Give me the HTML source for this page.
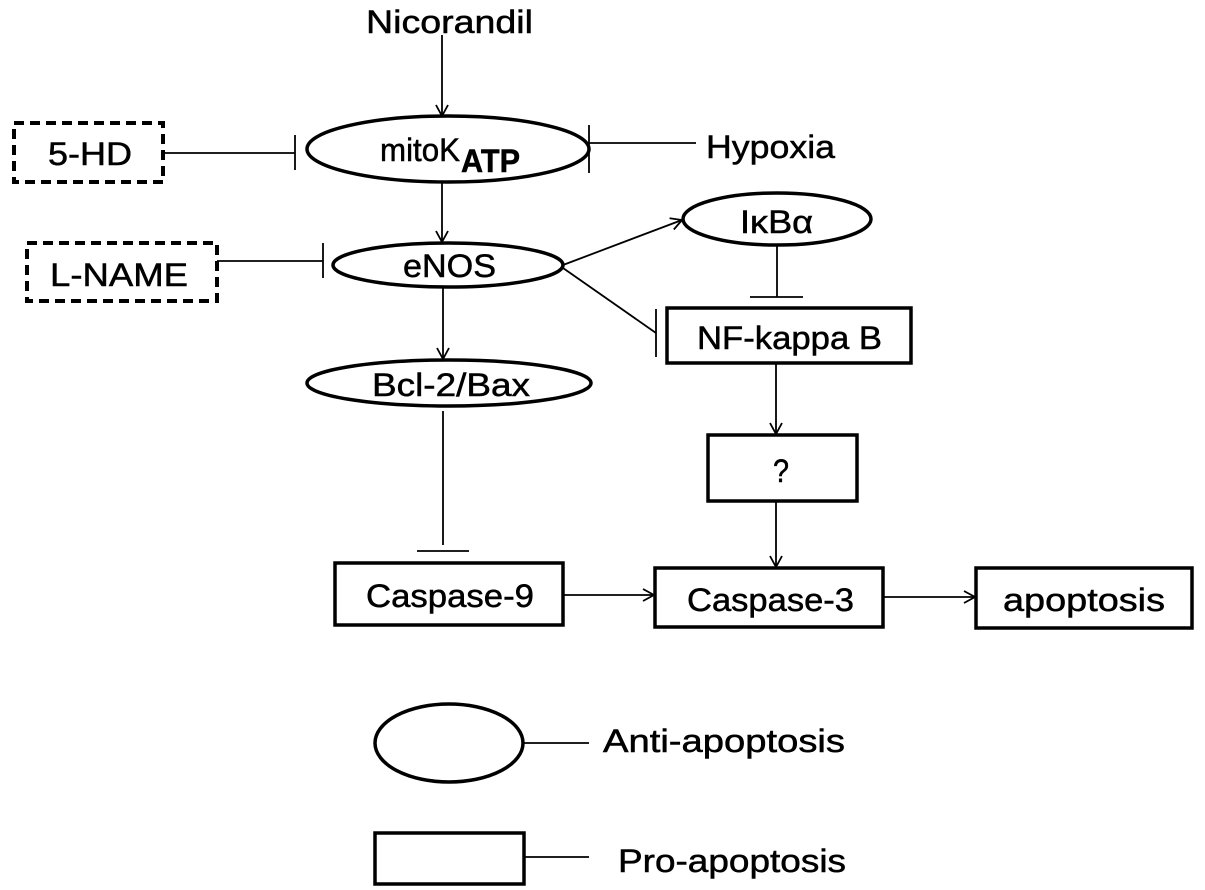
<!DOCTYPE html>
<html><head><meta charset="utf-8"><style>
html,body{margin:0;padding:0;background:#fff;}
svg{display:block;}
text{font-family:"Liberation Sans","DejaVu Sans",sans-serif;font-size:32px;fill:#000;stroke:#000;stroke-width:0.5;}
</style></head><body>
<svg width="1205" height="890" viewBox="0 0 1205 890" xmlns="http://www.w3.org/2000/svg">
<defs>
<marker id="a" markerWidth="14" markerHeight="14" refX="12" refY="7" orient="auto" markerUnits="userSpaceOnUse">
<path d="M1,1 L12,7 L1,13" fill="none" stroke="#000" stroke-width="1.8"/>
</marker>
</defs>
<g stroke="#000" fill="none">
<ellipse cx="448" cy="149" rx="141" ry="33" stroke-width="3.5"/>
<ellipse cx="448" cy="265" rx="115" ry="22" stroke-width="3.5"/>
<ellipse cx="777" cy="219" rx="94" ry="26" stroke-width="3.5"/>
<ellipse cx="449" cy="383" rx="142" ry="23" stroke-width="3.5"/>
<rect x="14" y="123" width="149" height="59" stroke-width="4" stroke-dasharray="10,6"/>
<rect x="27" y="243" width="190" height="58" stroke-width="4" stroke-dasharray="10,6"/>
<rect x="667" y="308" width="244" height="55" stroke-width="3.5"/>
<rect x="708" y="435" width="149" height="66" stroke-width="3.5"/>
<rect x="335" y="563" width="228" height="62" stroke-width="3.5"/>
<rect x="655" y="568" width="228" height="59" stroke-width="3.5"/>
<rect x="976" y="568" width="216" height="60" stroke-width="3.5"/>
<ellipse cx="449" cy="743" rx="74" ry="39" stroke-width="3.5"/>
<rect x="375" y="833" width="149" height="51" stroke-width="3.5"/>
<g stroke-width="1.8">
<line x1="442" y1="35" x2="442" y2="116" marker-end="url(#a)"/>
<line x1="163" y1="153" x2="295" y2="153"/><line x1="295" y1="135" x2="295" y2="170"/>
<line x1="589" y1="143" x2="696" y2="143"/><line x1="589" y1="125" x2="589" y2="173"/>
<line x1="442" y1="182" x2="442" y2="242" marker-end="url(#a)"/>
<line x1="217" y1="261" x2="323" y2="261"/><line x1="323" y1="243" x2="323" y2="278"/>
<line x1="563" y1="265" x2="682" y2="220" marker-end="url(#a)"/>
<line x1="563" y1="268" x2="656" y2="333"/><line x1="656" y1="309" x2="656" y2="357"/>
<line x1="777" y1="245" x2="777" y2="297"/><line x1="750" y1="297" x2="803" y2="297"/>
<line x1="443" y1="287" x2="443" y2="359" marker-end="url(#a)"/>
<line x1="776" y1="363" x2="776" y2="434" marker-end="url(#a)"/>
<line x1="776" y1="501" x2="776" y2="567" marker-end="url(#a)"/>
<line x1="443" y1="411" x2="443" y2="545"/><line x1="417" y1="551" x2="469" y2="551"/>
<line x1="563" y1="595" x2="654" y2="595" marker-end="url(#a)"/>
<line x1="883" y1="597" x2="975" y2="597" marker-end="url(#a)"/>
<line x1="524" y1="743" x2="589" y2="743"/>
<line x1="524" y1="857" x2="589" y2="857"/>
</g>
</g>
<text x="366" y="33" textLength="167" lengthAdjust="spacingAndGlyphs">Nicorandil</text>
<text x="380" y="161" textLength="80" lengthAdjust="spacingAndGlyphs">mitoK</text>
<text x="461" y="172" font-size="19" font-weight="bold" textLength="59" lengthAdjust="spacingAndGlyphs">ATP</text>
<text x="706" y="158" textLength="129" lengthAdjust="spacingAndGlyphs">Hypoxia</text>
<text x="48" y="165" textLength="84" lengthAdjust="spacingAndGlyphs">5-HD</text>
<text x="50" y="286" textLength="138" lengthAdjust="spacingAndGlyphs">L-NAME</text>
<text x="403" y="277" textLength="93" lengthAdjust="spacingAndGlyphs">eNOS</text>
<text x="740" y="233" textLength="73" lengthAdjust="spacingAndGlyphs">IκBα</text>
<text x="697" y="349" textLength="185" lengthAdjust="spacingAndGlyphs">NF-kappa B</text>
<text x="372" y="396" textLength="158" lengthAdjust="spacingAndGlyphs">Bcl-2/Bax</text>
<text x="773" y="482" textLength="16" lengthAdjust="spacingAndGlyphs">?</text>
<text x="366" y="607" textLength="168" lengthAdjust="spacingAndGlyphs">Caspase-9</text>
<text x="687" y="611" textLength="167" lengthAdjust="spacingAndGlyphs">Caspase-3</text>
<text x="1003" y="611" textLength="162" lengthAdjust="spacingAndGlyphs">apoptosis</text>
<text x="603" y="752" textLength="242" lengthAdjust="spacingAndGlyphs">Anti-apoptosis</text>
<text x="618" y="872" textLength="228" lengthAdjust="spacingAndGlyphs">Pro-apoptosis</text>
</svg>
</body></html>
